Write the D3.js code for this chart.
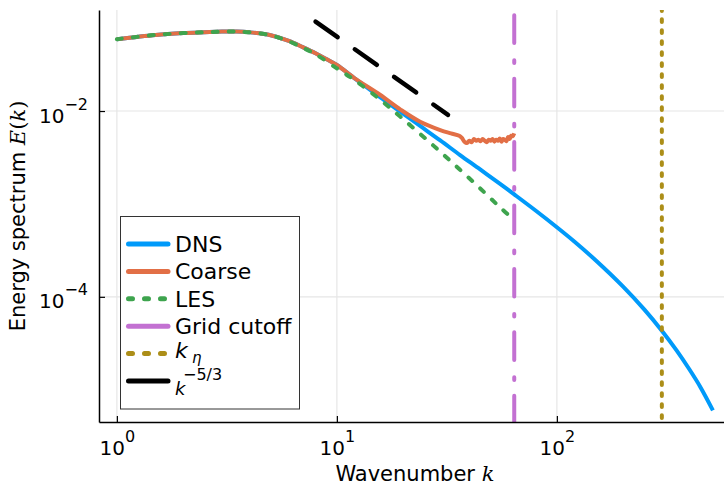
<!DOCTYPE html>
<html>
<head>
<meta charset="utf-8">
<script src="https://cdn.jsdelivr.net/npm/d3@7"></script>
<style>
body { margin: 0; background: #fff; }
text { font-family: "DejaVu Sans", sans-serif; fill: #000; }
</style>
</head>
<body>
<div id="chart"></div>
<script>
// spectra
var dnsK = [1, 1.5, 2, 2.5, 3, 3.5, 4, 5, 6, 7, 8, 9, 10, 12, 15.7, 19.4, 23.9, 29.5, 36.3, 44.8, 55.2, 64,
            80, 100, 120, 150, 200, 250, 300, 350, 400, 450, 512];
var dnsE = [0.0593, 0.0659, 0.0690, 0.0705, 0.0716, 0.0716, 0.0703, 0.0655, 0.0573, 0.0487, 0.0419, 0.0360, 0.0313, 0.02265,
            0.01409, 0.00984, 0.00690, 0.00483, 0.003357, 0.00235, 0.001641, 0.001265,
            0.000849, 0.000561, 0.000394, 0.0002477, 0.0001288, 0.0000728, 0.0000432, 0.0000265, 0.0000166,
            0.0000106, 0.0000060];

var coarseK = [1, 1.5, 2, 2.5, 3, 3.5, 4, 5, 6, 7, 8, 9, 10, 12, 15.7, 19.4, 23.9, 29.5, 33, 36,
               37, 38, 39, 40, 41, 42, 43, 44, 45, 46, 47, 48, 49, 50, 51, 52, 53, 54, 55, 56, 57, 58, 59, 60, 61, 62, 63, 64];
var coarseE = [0.0593, 0.0659, 0.0690, 0.0705, 0.0716, 0.0716, 0.0703, 0.0655, 0.0573, 0.0487, 0.0419, 0.0360, 0.0313, 0.02265,
               0.01496, 0.01042, 0.00767, 0.00624, 0.00575, 0.00542,
               0.00513, 0.00468, 0.00452, 0.00479, 0.00462, 0.00501, 0.00479, 0.00490, 0.00473, 0.00501, 0.00479, 0.00462,
               0.00490, 0.00479, 0.00501, 0.00468, 0.00490, 0.00479, 0.00507, 0.00468, 0.00501, 0.00490, 0.00473, 0.00525,
               0.00501, 0.00543, 0.00537, 0.00575];

var lesK = [1, 1.5, 2, 2.5, 3, 3.5, 4, 5, 6, 7, 8, 10, 12, 15.7, 19.4, 23.9, 29.5, 36.3, 44.8, 55.2, 64];
var lesE = [0.0593, 0.0659, 0.0690, 0.0705, 0.0716, 0.0716, 0.0703, 0.0653, 0.0568, 0.0480, 0.0408, 0.0288, 0.0216,
            0.01330, 0.00871, 0.00568, 0.00365, 0.00233, 0.001469, 0.000918, 0.00067];

var cutoffK = 64;
var etaK = 300;
var refK = [8, 32];
var refE = [0.0916, 0.00909];

var xTicks = [1, 10, 100];
var yTicks = [1e-2, 1e-4];
var xTickExp = ["0", "1", "2"];
var yTickExp = ["\u22122", "\u22124"];
var legendLabels = ["DNS", "Coarse", "LES", "Grid cutoff"];

var w = 724, h = 484;
var plotL = 99, plotR = 730.8, plotT = 10, plotB = 422;

var svg = d3.select("#chart").append("svg")
    .attr("width", w)
    .attr("height", h);

// log axes, widened by 3% of the data range like the original plot
var xLo = Math.log10(d3.min(dnsK)), xHi = Math.log10(d3.max(dnsK));
var yLo = Math.log10(d3.min(dnsE)), yHi = Math.log10(refE[0]);
var xPad = 0.03 * (xHi - xLo), yPad = 0.03 * (yHi - yLo);

var x = d3.scaleLog()
    .domain([Math.pow(10, xLo - xPad), Math.pow(10, xHi + xPad)])
    .range([plotL, plotR]);
var y = d3.scaleLog()
    .domain([Math.pow(10, yLo - yPad), Math.pow(10, yHi + yPad)])
    .range([plotB, plotT]);

svg.append("clipPath").attr("id", "clip")
  .append("rect")
    .attr("x", plotL).attr("y", plotT)
    .attr("width", w - plotL).attr("height", plotB - plotT);

// grid
svg.append("g").selectAll("line")
    .data(xTicks)
    .enter().append("line")
    .attr("x1", function(d) { return x(d); })
    .attr("x2", function(d) { return x(d); })
    .attr("y1", plotT).attr("y2", plotB)
    .attr("stroke", "#e6e6e6").attr("stroke-width", 1.2);
svg.append("g").selectAll("line")
    .data(yTicks)
    .enter().append("line")
    .attr("x1", plotL).attr("x2", w)
    .attr("y1", function(d) { return y(d); })
    .attr("y2", function(d) { return y(d); })
    .attr("stroke", "#e6e6e6").attr("stroke-width", 1.2);

var line = d3.line()
    .x(function(d) { return x(d[0]); })
    .y(function(d) { return y(d[1]); })
    .curve(d3.curveCatmullRom.alpha(0.5));

var plot = svg.append("g").attr("clip-path", "url(#clip)");

plot.append("path")
    .attr("d", line(d3.zip(dnsK, dnsE)))
    .attr("fill", "none").attr("stroke", "#009AFA").attr("stroke-width", 4);

plot.append("path")
    .attr("d", line(d3.zip(coarseK, coarseE)))
    .attr("fill", "none").attr("stroke", "#E26F46").attr("stroke-width", 4)
    .attr("stroke-linejoin", "round");

plot.append("path")
    .attr("d", line(d3.zip(lesK, lesE)))
    .attr("fill", "none").attr("stroke", "#3EA44E").attr("stroke-width", 4)
    .attr("stroke-linecap", "round")
    .attr("stroke-dasharray", "5,11");

// grid cutoff (dash-dot)
plot.append("line")
    .attr("x1", x(cutoffK)).attr("x2", x(cutoffK))
    .attr("y1", plotT).attr("y2", plotB)
    .attr("stroke", "#C371D2").attr("stroke-width", 4)
    .attr("stroke-linecap", "round")
    .attr("stroke-dasharray", "27.7,17.3,2.7,15.7")
    .attr("stroke-dashoffset", 58.1);

// Kolmogorov scale (dotted)
plot.append("line")
    .attr("x1", x(etaK)).attr("x2", x(etaK))
    .attr("y1", plotT).attr("y2", plotB)
    .attr("stroke", "#AC8E18").attr("stroke-width", 4)
    .attr("stroke-linecap", "round")
    .attr("stroke-dasharray", "2.7,8.3")
    .attr("stroke-dashoffset", 1.7);

// k^-5/3 reference
plot.append("path")
    .attr("d", d3.line()
        .x(function(d) { return x(d[0]); })
        .y(function(d) { return y(d[1]); })(d3.zip(refK, refE)))
    .attr("fill", "none").attr("stroke", "#000").attr("stroke-width", 4.5)
    .attr("stroke-linecap", "round")
    .attr("stroke-dasharray", "27,21");

// axes
var xAxis = svg.append("g")
    .attr("transform", "translate(0," + plotB + ")")
    .call(d3.axisBottom(x).tickValues(xTicks).tickSize(-6).tickSizeOuter(0));
var yAxis = svg.append("g")
    .attr("transform", "translate(" + plotL + ",0)")
    .call(d3.axisLeft(y).tickValues(yTicks).tickSize(-6).tickSizeOuter(0).tickPadding(11));

[xAxis, yAxis].forEach(function(g) {
    g.select(".domain").attr("stroke", "#000").attr("stroke-width", 1.5);
    g.selectAll(".tick line").attr("stroke", "#000").attr("stroke-width", 1.2);
    g.selectAll(".tick text")
        .attr("font-family", "DejaVu Sans")
        .attr("font-size", 20)
        .attr("fill", "#000");
});

xAxis.selectAll(".tick text").each(function(d, i) {
    var t = d3.select(this).text("").attr("y", 33).attr("dy", null);
    t.append("tspan").text("10");
    t.append("tspan").attr("dy", -13).attr("font-size", 16).text(xTickExp[i]);
});
yAxis.selectAll(".tick text").each(function(d, i) {
    var t = d3.select(this).text("").attr("dy", null).attr("y", 11);
    t.append("tspan").text("10");
    t.append("tspan").attr("dy", -13).attr("font-size", 16).text(yTickExp[i]);
});

// axis titles
var xl = svg.append("text")
    .attr("x", (plotL + plotR) / 2)
    .attr("y", 480.5)
    .attr("text-anchor", "middle")
    .attr("font-size", 21);
xl.append("tspan").text("Wavenumber ");
xl.append("tspan").attr("font-family", "DejaVu Serif").attr("font-style", "italic")
    .attr("font-size", 21).text("k");

var yl = svg.append("text")
    .attr("transform", "translate(25," + (plotT + plotB) / 2 + ") rotate(-90)")
    .attr("text-anchor", "middle")
    .attr("font-size", 21);
yl.append("tspan").text("Energy spectrum ");
yl.append("tspan").attr("font-family", "DejaVu Serif").attr("font-style", "italic").attr("font-size", 21).text("E");
yl.append("tspan").attr("font-family", "DejaVu Serif").attr("font-size", 21).text("(");
yl.append("tspan").attr("font-family", "DejaVu Serif").attr("font-style", "italic").attr("font-size", 21).text("k");
yl.append("tspan").attr("font-family", "DejaVu Serif").attr("font-size", 21).text(")");

// legend
var lg = svg.append("g");
lg.append("rect")
    .attr("x", 120.5).attr("y", 216.5)
    .attr("width", 179).attr("height", 192.5)
    .attr("fill", "#fff").attr("stroke", "#333").attr("stroke-width", 1);

var legendStyles = [
    { color: "#009AFA", dash: null },
    { color: "#E26F46", dash: null },
    { color: "#3EA44E", dash: "4,12" },
    { color: "#C371D2", dash: null },
    { color: "#AC8E18", dash: "4,12" },
    { color: "#000", dash: null }
];
var rowY = function(i) { return 244 + i * 27.4; };

lg.selectAll("line.sample")
    .data(legendStyles)
    .enter().append("line")
    .attr("class", "sample")
    .attr("x1", 128.5).attr("x2", 168)
    .attr("y1", function(d, i) { return rowY(i); })
    .attr("y2", function(d, i) { return rowY(i); })
    .attr("stroke", function(d) { return d.color; })
    .attr("stroke-width", 5)
    .attr("stroke-linecap", "round")
    .attr("stroke-dasharray", function(d) { return d.dash; });

lg.selectAll("text.lbl")
    .data(legendLabels)
    .enter().append("text")
    .attr("class", "lbl")
    .attr("x", 175)
    .attr("y", function(d, i) { return rowY(i) + 8; })
    .attr("font-size", 22)
    .text(function(d) { return d; });

// k_eta
lg.append("text")
    .attr("x", 175).attr("y", 358)
    .attr("font-family", "DejaVu Serif").attr("font-style", "italic")
    .attr("font-size", 22).text("k");
lg.append("text")
    .attr("x", 192).attr("y", 363)
    .attr("font-family", "DejaVu Serif").attr("font-style", "italic")
    .attr("font-size", 15).text("\u03B7");

// k^-5/3
lg.append("text")
    .attr("x", 175).attr("y", 395)
    .attr("font-family", "DejaVu Serif").attr("font-style", "italic")
    .attr("font-size", 18).text("k");
lg.append("text")
    .attr("x", 183).attr("y", 380)
    .attr("font-family", "DejaVu Serif")
    .attr("font-size", 16).text("\u22125/3");
</script>
</body>
</html>
